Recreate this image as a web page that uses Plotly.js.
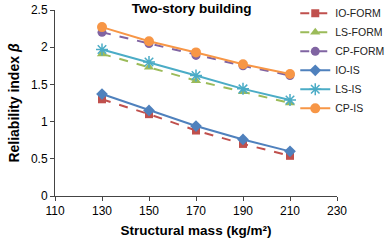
<!DOCTYPE html>
<html>
<head>
<meta charset="utf-8">
<script src="https://cdn.plot.ly/plotly-3.0.1.min.js"></script>
<style>html,body{margin:0;padding:0;background:#fff;}#chart{width:387px;height:242px;}</style>
</head>
<body>
<div id="chart"></div>
<script>
const mass = [130, 150, 170, 190, 210];
const ioForm = [1.30, 1.10, 0.88, 0.70, 0.54];
const lsForm = [1.91, 1.73, 1.55, 1.40, 1.25];
const cpForm = [2.20, 2.05, 1.89, 1.75, 1.62];
const ioIS = [1.37, 1.15, 0.94, 0.76, 0.60];
const lsIS = [1.97, 1.80, 1.62, 1.44, 1.29];
const cpIS = [2.27, 2.08, 1.93, 1.77, 1.64];
const xTicks = [110, 130, 150, 170, 190, 210, 230];
const yTicks = [0, 0.5, 1, 1.5, 2, 2.5];

const series = [
  {name: 'IO-FORM', y: ioForm, color: '#C0504D', dash: 'dash', symbol: 'square', size: 8},
  {name: 'LS-FORM', y: lsForm, color: '#9BBB59', dash: 'dash', symbol: 'triangle-up', size: 9},
  {name: 'CP-FORM', y: cpForm, color: '#8064A2', dash: 'dash', symbol: 'circle', size: 9},
  {name: 'IO-IS', y: ioIS, color: '#4F81BD', dash: 'solid', symbol: 'diamond', size: 9},
  {name: 'LS-IS', y: lsIS, color: '#4BACC6', dash: 'solid', symbol: 'asterisk-open', size: 10},
  {name: 'CP-IS', y: cpIS, color: '#F79646', dash: 'solid', symbol: 'circle', size: 10}
];

const traces = series.map(s => ({
  type: 'scatter', mode: 'lines+markers', name: s.name,
  x: mass, y: s.y,
  line: {color: s.color, width: 2, dash: s.dash},
  marker: {color: s.color, symbol: s.symbol, size: s.size, line: {color: s.color, width: s.symbol === 'asterisk-open' ? 1.5 : 0}}
}));

const font = 'Liberation Sans, Arial, sans-serif';
const layout = {
  width: 387, height: 242,
  margin: {l: 55, r: 50, t: 10, b: 46, autoexpand: false},
  paper_bgcolor: '#fff', plot_bgcolor: '#fff',
  font: {family: font, size: 11, color: '#000'},
  title: {text: '<b>Two-story building</b>', font: {family: font, size: 13.5, color: '#000'},
          x: 0.495, xanchor: 'center', y: 0.965, yanchor: 'middle', yref: 'container'},
  showlegend: true,
  legend: {x: 0.852, xanchor: 'left', y: 1.06, yanchor: 'top', bgcolor: 'rgba(0,0,0,0)',
           font: {family: font, size: 10.5, color: '#222'}, tracegroupgap: 0, itemwidth: 30},
  xaxis: {range: [110, 230], tickvals: xTicks, ticktext: xTicks.map(String),
          showgrid: false, zeroline: false, showline: true, linecolor: '#444', linewidth: 1,
          ticks: 'outside', ticklen: 4, tickcolor: '#444',
          tickfont: {family: font, size: 12, color: '#000'},
          title: {text: '<b>Structural mass (kg/m²)</b>', font: {family: font, size: 13.5, color: '#000'}, standoff: 8}},
  yaxis: {range: [0, 2.5], tickvals: yTicks, ticktext: yTicks.map(String),
          showgrid: false, zeroline: false, showline: true, linecolor: '#444', linewidth: 1,
          ticks: 'outside', ticklen: 4, tickcolor: '#444',
          tickfont: {family: font, size: 12, color: '#000'},
          title: {text: '<b>Reliability index <i>β</i></b>', font: {family: font, size: 14, color: '#000'}, standoff: 8}}
};

Plotly.newPlot('chart', traces, layout, {staticPlot: true, displayModeBar: false});
</script>
</body>
</html>
